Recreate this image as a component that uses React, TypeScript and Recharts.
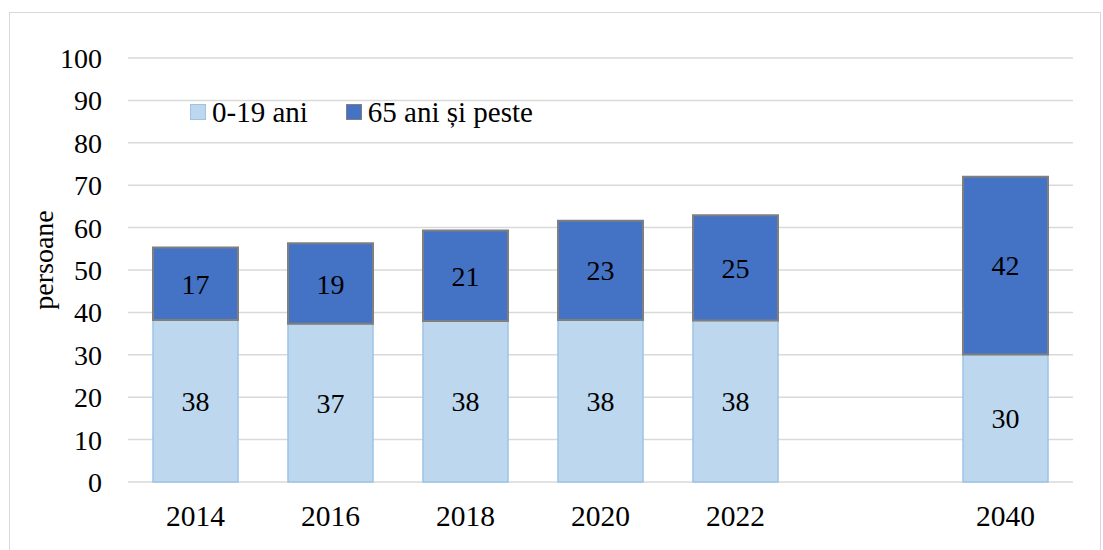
import { BarChart, Bar, XAxis, YAxis, CartesianGrid, Legend, LabelList } from 'recharts';

const years = ['2014', '2016', '2018', '2020', '2022', '', '2040'];
const youth = [38.2, 37.3, 38.0, 38.2, 38.1, null, 30.1];
const elderly = [17.1, 19.0, 21.3, 23.4, 24.8, null, 41.9];
const yTicks = [0, 10, 20, 30, 40, 50, 60, 70, 80, 90, 100];

const youthName = '0-19 ani';
const elderlyName = '65 ani și peste';

const FONT = 'Liberation Serif, Times New Roman, serif';

const chartData = years.map((year, i) => ({
  year,
  youth: youth[i],
  elderly: elderly[i],
}));

const roundLabel = (v: any) => (v == null ? '' : Math.round(Number(v)));

function AxisTitle() {
  return (
    <text
      transform="translate(53,260) rotate(-90)"
      textAnchor="middle"
      fontFamily={FONT}
      fontSize={28}
      fill="#000"
    >
      persoane
    </text>
  );
}

function LegendBox() {
  const swatch = (bg: string, border: string) => (
    <span
      style={{
        display: 'inline-block',
        width: 14,
        height: 14,
        background: bg,
        border: `1px solid ${border}`,
        marginRight: 6,
      }}
    />
  );
  return (
    <div style={{ display: 'flex', alignItems: 'center', fontFamily: FONT, fontSize: 29, lineHeight: '32px', color: '#000' }}>
      {swatch('#BDD7EE', '#9DC3E6')}
      <span>{youthName}</span>
      <span style={{ width: 38 }} />
      {swatch('#4472C4', '#808080')}
      <span>{elderlyName}</span>
    </div>
  );
}

export default function App() {
  return (
    <div style={{ position: 'absolute', left: 0, top: 0, width: 1103, height: 550, overflow: 'hidden', background: '#fff' }}>
      <div
        style={{
          position: 'absolute',
          left: 9,
          top: 12,
          width: 1090,
          height: 560,
          borderTop: '1px solid #d9d9d9',
          borderLeft: '1px solid #d9d9d9',
          borderRight: '1px solid #d9d9d9',
        }}
      />
      <div style={{ position: 'absolute', left: 0, top: 0 }}>
        <BarChart
          width={1103}
          height={550}
          data={chartData}
          margin={{ top: 58, right: 30, left: 0, bottom: 0 }}
          barSize={85}
        >
          <CartesianGrid vertical={false} stroke="#d9d9d9" strokeWidth={1.5} />
          <XAxis
            dataKey="year"
            height={68}
            tickLine={false}
            axisLine={false}
            tickSize={0}
            tickMargin={23}
            interval={0}
            tick={{ fontFamily: FONT, fontSize: 29.5, fill: '#000' }}
          />
          <YAxis
            width={128}
            domain={[0, 100]}
            ticks={yTicks}
            interval={0}
            tickLine={false}
            axisLine={false}
            tickSize={0}
            tickMargin={26}
            tick={{ fontFamily: FONT, fontSize: 28, fill: '#000' }}
            label={<AxisTitle />}
          />
          <Legend
            layout="horizontal"
            verticalAlign="middle"
            align="center"
            content={<LegendBox />}
            wrapperStyle={{ left: 190, top: 96, width: 420, height: 32 }}
          />
          <Bar
            dataKey="youth"
            name={youthName}
            stackId="a"
            fill="#BDD7EE"
            stroke="#9DC3E6"
            strokeWidth={1.5}
            isAnimationActive={false}
          >
            <LabelList
              dataKey="youth"
              position="center"
              formatter={roundLabel}
              fill="#000"
              fontFamily={FONT}
              fontSize={28}
            />
          </Bar>
          <Bar
            dataKey="elderly"
            name={elderlyName}
            stackId="a"
            fill="#4472C4"
            stroke="#7F7F7F"
            strokeWidth={2}
            isAnimationActive={false}
          >
            <LabelList
              dataKey="elderly"
              position="center"
              formatter={roundLabel}
              fill="#000"
              fontFamily={FONT}
              fontSize={28}
            />
          </Bar>
        </BarChart>
      </div>
    </div>
  );
}
